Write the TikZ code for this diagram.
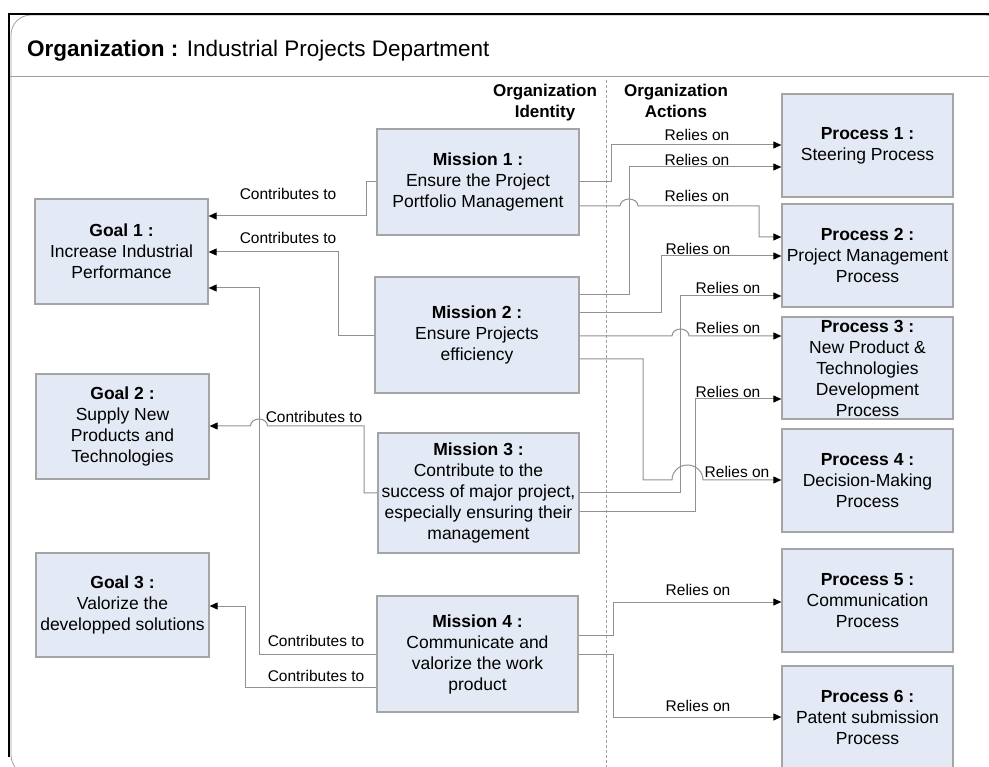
\documentclass[tikz,border=0pt]{standalone}
\usepackage{fontspec}
\setmainfont{Liberation Sans}
\usetikzlibrary{arrows.meta}
\definecolor{boxfill}{RGB}{228,234,245}
\definecolor{boxdraw}{RGB}{165,165,165}
\definecolor{conncol}{RGB}{145,145,145}
\definecolor{sepcol}{RGB}{160,160,160}
\tikzset{
  box/.style={draw=boxdraw, fill=boxfill, line width=1.3pt, inner sep=0pt, align=center,
    font=\fontsize{17.5}{21}\selectfont},
  link/.style={draw=conncol, line width=1pt, -{Triangle[length=8pt,width=7pt,color=black]}},
  lbl/.style={font=\fontsize{15.5}{18}\selectfont, inner sep=0pt},
  hdr/.style={font=\fontsize{17}{21.5}\selectfont\bfseries, inner sep=0pt, align=center},
}
\begin{document}
\begin{tikzpicture}[x=1pt,y=-1pt]
\useasboundingbox (0,0) rectangle (989,767);
\clip (0,0) rectangle (989,767);
% frame
\draw[sepcol, line width=0.8pt, rounded corners=20pt] (11,15) rectangle (1005,775);
\draw[black, line width=2pt] (989,14) -- (9,14) -- (9,757);
\draw[sepcol, line width=1pt] (10,77) -- (989,77);
\draw[sepcol, line width=0.9pt, dash pattern=on 3pt off 2pt] (606,80) -- (606,767);
% title & headers
\node[anchor=base west, inner sep=0pt, font=\fontsize{22.5}{27}\selectfont] (title) at (27,57)
  {\textbf{Organization :} Industrial Projects Department};
\node[hdr] (hid) at (545,102.5) {Organization\\Identity};
\node[hdr] (hact) at (676,101) {Organization\\Actions};
% goals
\node[box, minimum width=173pt, minimum height=105pt] (g1) at (121.5,251.5)
  {\textbf{Goal 1 :}\\Increase Industrial\\Performance};
\node[box, minimum width=173pt, minimum height=105pt] (g2) at (122.5,426.5)
  {\textbf{Goal 2 :}\\Supply New\\Products and\\Technologies};
\node[box, minimum width=173pt, minimum height=104pt] (g3) at (122.5,605)
  {\textbf{Goal 3 :}\\Valorize the\\developped solutions};
% missions
\node[box, minimum width=202pt, minimum height=106pt] (m1) at (478,182)
  {\textbf{Mission 1 :}\\Ensure the Project\\Portfolio Management};
\node[box, minimum width=204pt, minimum height=116pt] (m2) at (477,335)
  {\textbf{Mission 2 :}\\Ensure Projects\\efficiency};
\node[box, minimum width=201pt, minimum height=120pt] (m3) at (478.5,493)
  {\textbf{Mission 3 :}\\Contribute to the\\success of major project,\\especially ensuring their\\management};
\node[box, minimum width=201pt, minimum height=116pt] (m4) at (477.5,654)
  {\textbf{Mission 4 :}\\Communicate and\\valorize the work\\product};
% processes
\node[box, minimum width=171pt, minimum height=103pt] (p1) at (867.5,145.5)
  {\textbf{Process 1 :}\\Steering Process};
\node[box, minimum width=171pt, minimum height=103pt] (p2) at (867.5,255.5)
  {\textbf{Process 2 :}\\Project Management\\Process};
\node[box, minimum width=171pt, minimum height=102pt] (p3) at (867.5,368)
  {\textbf{Process 3 :}\\New Product \&\\Technologies\\Development\\Process};
\node[box, minimum width=171pt, minimum height=103pt] (p4) at (867.5,480.5)
  {\textbf{Process 4 :}\\Decision-Making\\Process};
\node[box, minimum width=171pt, minimum height=103pt] (p5) at (867.5,600.5)
  {\textbf{Process 5 :}\\Communication\\Process};
\node[box, minimum width=171pt, minimum height=103pt] (p6) at (867.5,717.5)
  {\textbf{Process 6 :}\\Patent submission\\Process};
% contributes to
\draw[link] (m1.west |- 0,182) -- (366,182) -- (366,216) -- (g1.east |- 0,216);
\draw[link] (m2.west |- 0,336) -- (338,336) -- (338,252) -- (g1.east |- 0,252);
\draw[link] (m4.west |- 0,654) -- (259,654) -- (259,288) -- (g1.east |- 0,288);
\draw[link] (m3.west |- 0,493) -- (364,493) -- (364,426) -- (267.5,426)
  arc[start angle=0, end angle=-180, x radius=8.5, y radius=7] -- (g2.east |- 0,426);
\draw[link] (m4.west |- 0,687) -- (245,687) -- (245,606) -- (g3.east |- 0,606);
% relies on
\draw[link] (m1.east |- 0,182) -- (611,182) -- (611,145) -- (p1.west |- 0,145);
\draw[link] (m1.east |- 0,206) -- (620,206)
  arc[start angle=180, end angle=360, x radius=9, y radius=7] -- (759,206) -- (759,237) -- (p2.west |- 0,237);
\draw[link] (m2.east |- 0,295) -- (629,295) -- (629,167) -- (p1.west |- 0,167);
\draw[link] (m2.east |- 0,313) -- (661,313) -- (661,256) -- (p2.west |- 0,256);
\draw[link] (m2.east |- 0,336) -- (672,336)
  arc[start angle=180, end angle=360, x radius=8.5, y radius=7] -- (p3.west |- 0,336);
\draw[link] (m2.east |- 0,359) -- (643,359) -- (643,480) -- (672,480)
  arc[start angle=180, end angle=360, x radius=15.5, y radius=15] -- (p4.west |- 0,480);
\draw[link] (m3.east |- 0,493) -- (680,493) -- (680,296) -- (p2.west |- 0,296);
\draw[link] (m3.east |- 0,511) -- (695,511) -- (695,399) -- (p3.west |- 0,399);
\draw[link] (m4.east |- 0,635) -- (613,635) -- (613,602) -- (p5.west |- 0,602);
\draw[link] (m4.east |- 0,654) -- (613,654) -- (613,717) -- (p6.west |- 0,717);
% labels
\node[lbl] (lc1) at (288,194) {Contributes to};
\node[lbl] (lc2) at (288,238) {Contributes to};
\node[lbl] (lc3) at (314,417) {Contributes to};
\node[lbl] (lc4) at (316,641) {Contributes to};
\node[lbl] (lc5) at (316,676) {Contributes to};
\node[lbl] (lr1) at (697,135) {Relies on};
\node[lbl] (lr2) at (697,160) {Relies on};
\node[lbl] (lr3) at (697,196) {Relies on};
\node[lbl] (lr4) at (698,249) {Relies on};
\node[lbl] (lr5) at (728,288) {Relies on};
\node[lbl] (lr6) at (728,328) {Relies on};
\node[lbl] (lr7) at (728,392) {Relies on};
\node[lbl] (lr8) at (737,472) {Relies on};
\node[lbl] (lr9) at (698,590) {Relies on};
\node[lbl] (lr10) at (698,706) {Relies on};
\end{tikzpicture}
\end{document}
